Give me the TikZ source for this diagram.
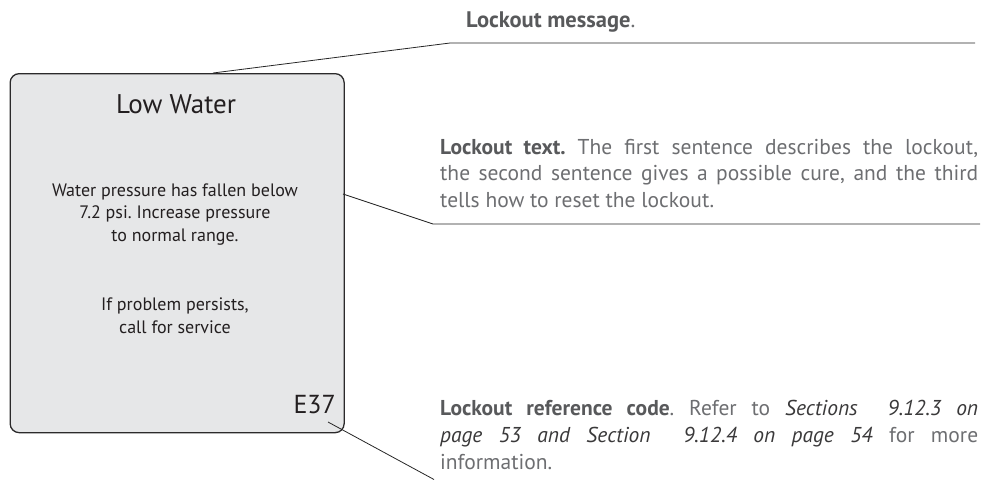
\documentclass[tikz,border=0pt]{standalone}
\usepackage{fontspec}
\setmainfont{PT Sans}
\frenchspacing
\definecolor{boxfill}{HTML}{E6E7E8}
\definecolor{boxline}{HTML}{2B2A2B}
\definecolor{ink}{HTML}{231F20}
\definecolor{txtgray}{HTML}{6D6E71}
\definecolor{boldgray}{HTML}{58595B}
\definecolor{itgray}{HTML}{3A393A}
\begin{document}
\begin{tikzpicture}[x=1pt,y=-1pt,
  leader/.style={draw=black!85, line width=0.8pt},
  note/.style={anchor=base west, inner sep=0pt, text=txtgray},
  boxtxt/.style={inner sep=0pt, anchor=base, text=ink}]
\useasboundingbox (0,0) rectangle (984,480);
\node[draw=boxline, line width=1.3pt, fill=boxfill, rounded corners=9pt,
  minimum width=334pt, minimum height=359pt, anchor=north west, inner sep=0pt] (panel) at (9.5,73) {};
\node[boxtxt, font=\fontsize{27}{32}\selectfont] (title) at (176,113) {Low Water};
\node[boxtxt] (body) at (175,196)
  {\parbox[t]{320pt}{\centering\fontsize{18}{22.6}\selectfont\frenchspacing
   Water pressure has fallen below\\7.2 psi. Increase pressure\\to normal range.}};
\node[boxtxt] (body2) at (175,310)
  {\parbox[t]{320pt}{\centering\fontsize{18}{23}\selectfont
   If problem persists,\\call for service}};
\node[boxtxt, anchor=base east, font=\fontsize{26}{30}\selectfont] (code) at (336,413) {E37};
% notes
\node[note, text=boldgray, font=\fontsize{22.5}{26}\selectfont] (msg) at (466,27)
  {\textbf{Lockout message}\textcolor{txtgray}{.}};
\node[note] (ltext) at (440,154)
  {\parbox[t]{538pt}{\fontsize{21.5}{26.6}\selectfont\frenchspacing
   \textcolor{boldgray}{\textbf{Lockout text.}} The first sentence describes the lockout,\linebreak
   the second sentence gives a possible cure, and the third\linebreak
   tells how to reset the lockout.}};
\node[note] (lref) at (440,415)
  {\parbox[t]{538pt}{\fontsize{21.5}{27}\selectfont\frenchspacing
   \textcolor{boldgray}{\textbf{Lockout reference code}}. Refer to \textcolor{itgray}{\textit{Sections~ 9.12.3 on}}\linebreak
   \textcolor{itgray}{\textit{page 53 and Section~ 9.12.4 on page 54}} for more\linebreak
   information.}};
% leaders
\coordinate (m1) at (213,73);
\coordinate (m2) at (450,43);
\coordinate (m3) at (975,43);
\draw[leader] (m1) -- (m2) -- (m3);
\coordinate (t1) at (343,194);
\coordinate (t2) at (433,224);
\coordinate (t3) at (980,224);
\draw[leader] (t1) -- (t2) -- (t3);
\coordinate (r1) at (328,422);
\coordinate (r2) at (434,479.5);
\draw[leader] (r1) -- (r2);
\end{tikzpicture}
\end{document}
